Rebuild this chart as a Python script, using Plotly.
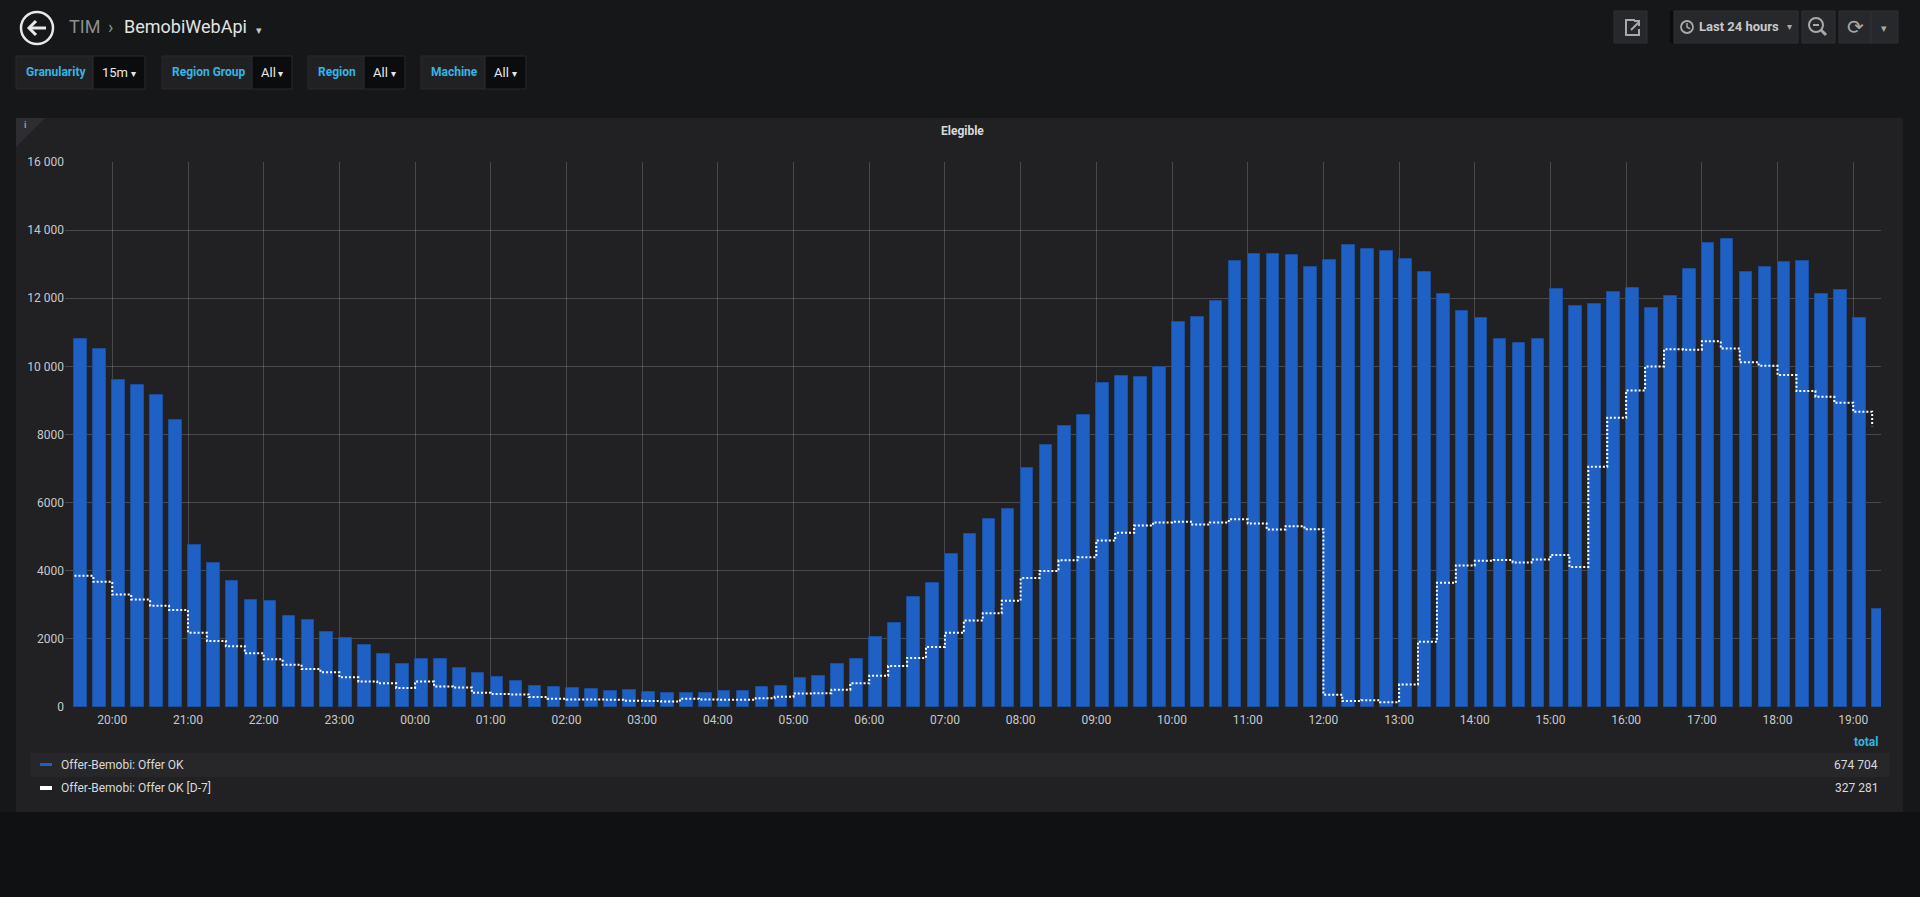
import pandas as pd
import plotly.graph_objects as go

# 15 minute buckets, last 24 hours (19:30 -> 19:15 next day)
times = pd.date_range("2019-05-20 19:30", periods=96, freq="15min")

offer_ok = [
    10800, 10520, 9600, 9460, 9150, 8440,
    4770, 4230, 3710, 3140,
    3100, 2670, 2540, 2190,
    2020, 1810, 1560, 1250,
    1420, 1420, 1140, 990,
    870, 770, 630, 600,
    545, 535, 465, 490,
    440, 420, 405, 405,
    465, 475, 580, 625,
    860, 905, 1265, 1405,
    2065, 2470, 3215, 3655,
    4480, 5070, 5520, 5825,
    7030, 7690, 8260, 8560,
    9525, 9720, 9700, 9980,
    11290, 11450, 11905, 13080,
    13300, 13310, 13260, 12925,
    13135, 13575, 13435, 13400,
    13160, 12785, 12135, 11615,
    11430, 10800, 10685, 10815,
    12265, 11765, 11825, 12195,
    12300, 11705, 12080, 12845,
    13620, 13740, 12765, 12925,
    13065, 13090, 12135, 12230,
    11415, 2880,
]

offer_ok_d7 = [
    3850, 3680, 3300, 3155, 2970, 2845,
    2180, 1940, 1785, 1580,
    1405, 1240, 1115, 1020,
    870, 745, 695, 560,
    745, 605, 570, 420,
    380, 370, 290, 245,
    220, 220, 210, 185,
    175, 160, 245, 220,
    210, 210, 255, 300,
    395, 405, 510, 695,
    915, 1205, 1440, 1765,
    2180, 2540, 2750, 3120,
    3785, 3990, 4305, 4400,
    4885, 5115, 5325, 5420,
    5440, 5360, 5420, 5510,
    5385, 5210, 5305, 5220,
    360, 175, 195, 140,
    660, 1915, 3645, 4155,
    4295, 4315, 4245, 4330,
    4465, 4110, 7055, 8495,
    9295, 10000, 10500, 10490,
    10735, 10525, 10120, 10015,
    9745, 9280, 9110, 8935,
    8665, 8240,
]

series_names = ["Offer-Bemobi: Offer OK", "Offer-Bemobi: Offer OK [D-7]"]
series_totals = ["674 704", "327 281"]

y_ticks = [0, 2000, 4000, 6000, 8000, 10000, 12000, 14000, 16000]
y_tick_text = ["0", "2000", "4000", "6000", "8000", "10 000", "12 000", "14 000", "16 000"]

variables = [("Granularity", "15m"), ("Region Group", "All"), ("Region", "All"), ("Machine", "All")]

# pixel helpers (figure 1920x897, plot area 65..1881 x 162..707)
PL, PR, PT, PB = 65, 1881, 162, 707


def px(x):
    return (x - PL) / (PR - PL)


def py(y):
    return (PB - y) / (PB - PT)


FONT = "Roboto"
BLUE = "#1f60c4"
CYAN = "#33b5e5"
TXT = "#d8d9da"

fig = go.Figure()

fig.add_bar(
    x=times,
    y=offer_ok,
    offset=0,
    width=600000,
    marker=dict(color=BLUE, line=dict(color="#1b4f9e", width=1)),
    name=series_names[0],
)

fig.add_scatter(
    x=times,
    y=offer_ok_d7,
    mode="lines",
    line=dict(color="white", width=2, dash="2px,2px", shape="hv"),
    name=series_names[1],
)

shapes = []
annotations = []


def rect(x0, y0, x1, y1, fill, line=None, lw=0, layer="below"):
    shapes.append(dict(
        type="rect", xref="paper", yref="paper",
        x0=px(x0), x1=px(x1), y0=py(y1), y1=py(y0),
        fillcolor=fill, line=dict(color=line or fill, width=lw), layer=layer,
    ))


def text(x, y, s, size=12, color=TXT, anchor="left", weight="normal", family=FONT):
    annotations.append(dict(
        xref="paper", yref="paper", x=px(x), y=py(y), text=s, showarrow=False,
        xanchor=anchor, yanchor="middle",
        font=dict(size=size, color=color, family=family, weight=weight),
    ))


def path(points, color, width=2, layer="above", close=False, fill=None):
    d = "M " + " L ".join(f"{px(a):.5f},{py(b):.5f}" for a, b in points)
    if close:
        d += " Z"
    shapes.append(dict(
        type="path", xref="paper", yref="paper", path=d, layer=layer,
        line=dict(color=color, width=width), fillcolor=fill or "rgba(0,0,0,0)",
    ))


def circle(cx, cy, r, color, width=2, layer="above"):
    shapes.append(dict(
        type="circle", xref="paper", yref="paper",
        x0=px(cx - r), x1=px(cx + r), y0=py(cy + r), y1=py(cy - r),
        line=dict(color=color, width=width), layer=layer,
    ))


# page background below panel
rect(0, 812, 1920, 897, "#101113")

# panel
rect(16, 118, 1903, 812, "#212124")
path([(16, 118), (45, 118), (16, 147)], "#2e2e32", width=0, layer="below", close=True, fill="#2e2e32")
text(22, 125, "i", size=9, color="#9a9a9a", weight="bold")
text(962, 131, "Elegible", size=12, color=TXT, anchor="center", weight="bold")

# header: back button and breadcrumb
circle(37, 28, 16, "#e8e8e8", width=2.5)
path([(46, 28), (29, 28)], "#e8e8e8", width=3)
path([(36, 21), (29, 28), (36, 35)], "#e8e8e8", width=3)
text(67, 27, "TIM", size=18, color="#8e8e8e")
text(106, 27, "›", size=18, color="#8e8e8e")
text(122, 27, "BemobiWebApi", size=18, color="#e3e3e3")
text(254, 30, "▾", size=11, color="#c8c8c8", family="DejaVu Sans")

# template variables
var_boxes = [(16, 93, 145), (162, 252, 292), (308, 364, 405), (421, 485, 526)]
for (label, value), (x0, xm, x1) in zip(variables, var_boxes):
    rect(x0, 56, xm, 89, "#212124", line="#2a2a2e", lw=1)
    rect(xm, 56, x1, 89, "#0b0c0e", line="#2a2a2e", lw=1)
    text(x0 + 8, 72, label, size=12, color=CYAN, weight="bold")
    text(xm + 7, 72, value, size=13, color="#e8e8e8")
    text(x1 - 7, 73, "▾", size=10, color="#e8e8e8", anchor="right", family="DejaVu Sans")

# top right buttons
BTN = "#27282b"
rect(1614, 11, 1647, 43, BTN, line="#303134", lw=1)
path([(1635, 20), (1626, 20), (1626, 35), (1639, 35), (1639, 29)], "#a9a9a9", width=2)
path([(1631, 30), (1639, 22)], "#a9a9a9", width=2)
path([(1634, 21), (1639, 21), (1639, 26)], "#a9a9a9", width=2)
rect(1670, 11, 1674, 43, "#0b0c0e")
rect(1674, 11, 1798, 43, BTN, line="#303134", lw=1)
circle(1687, 27, 6, "#a9a9a9", width=1.8)
path([(1687, 23), (1687, 27), (1690, 29)], "#a9a9a9", width=1.5)
text(1697, 27, "Last 24 hours", size=13, color="#c8c8c8", weight="bold")
text(1789, 26, "▾", size=10, color="#a9a9a9", anchor="center", family="DejaVu Sans")
rect(1802, 11, 1835, 43, BTN, line="#303134", lw=1)
circle(1816, 25, 7, "#a9a9a9", width=2)
path([(1813, 25), (1819, 25)], "#a9a9a9", width=2)
path([(1821, 30), (1826, 35)], "#a9a9a9", width=3)
rect(1839, 11, 1871, 43, BTN, line="#303134", lw=1)
rect(1871, 11, 1898, 43, BTN, line="#303134", lw=1)
text(1855, 27, "⟳", size=20, color="#a9a9a9", anchor="center", family="DejaVu Sans")
text(1884, 28, "▾", size=11, color="#a9a9a9", anchor="center", family="DejaVu Sans")

# legend table
text(1880, 742, "total", size=12, color=CYAN, anchor="right", weight="bold")
rect(30, 753, 1890, 777, "#27272a")
rect(40, 763, 52, 766, BLUE)
rect(40, 786, 52, 790, "#ffffff")
for name, total, y in zip(series_names, series_totals, [765, 788]):
    text(59, y, name, size=12, color=TXT)
    text(1880, y, total, size=12, color=TXT, anchor="right")

fig.update_layout(
    width=1920,
    height=897,
    margin=dict(l=PL, r=1920 - PR, t=PT, b=897 - PB),
    paper_bgcolor="#161719",
    plot_bgcolor="rgba(0,0,0,0)",
    showlegend=False,
    bargap=0,
    shapes=shapes,
    annotations=annotations,
    font=dict(family=FONT, color="#c7c8ca", size=12),
    xaxis=dict(
        type="date",
        range=["2019-05-20 19:22:30", "2019-05-21 19:22:00"],
        dtick=3600000,
        tick0="2019-05-20 20:00",
        tickformat="%H:%M",
        showgrid=True,
        gridcolor="rgba(255,255,255,0.18)",
        gridwidth=1,
        zeroline=False,
        showline=False,
        ticks="",
        ticklabelstandoff=4,
        tickfont=dict(size=12, color="#c7c8ca"),
        fixedrange=True,
    ),
    yaxis=dict(
        range=[0, 16000],
        tickvals=y_ticks,
        ticktext=y_tick_text,
        showgrid=True,
        gridcolor="rgba(255,255,255,0.18)",
        gridwidth=1,
        zeroline=False,
        showline=False,
        ticks="",
        tickfont=dict(size=12, color="#c7c8ca"),
        fixedrange=True,
    ),
)

fig.write_html(
    "out.html",
    config=dict(displayModeBar=False),
    post_script="document.body.style.margin='0';document.body.style.background='#161719';document.body.style.overflow='hidden';",
)
